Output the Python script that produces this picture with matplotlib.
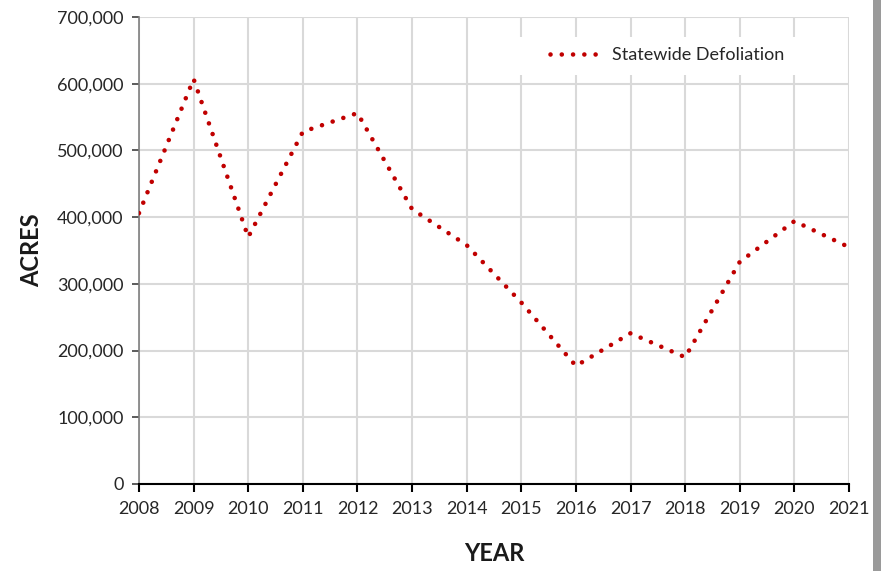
import matplotlib.pyplot as plt
from matplotlib.patches import Rectangle
from matplotlib.ticker import FuncFormatter

years = [2008, 2009, 2010, 2011, 2012, 2013, 2014, 2015, 2016, 2017, 2018, 2019, 2020, 2021]
acres = [406000, 607000, 370000, 528000, 556000, 412000, 358000, 272000, 177000, 226000, 190000, 333000, 394000, 355000]

plt.rcParams['font.family'] = ['Lato', 'DejaVu Sans']

fig = plt.figure(figsize=(8.81, 5.71), dpi=100)
ax = fig.add_axes([139/881, 1 - 484/571, 710/881, 467/571])

ax.plot(years, acres, color='#c00000', linewidth=3.3,
        linestyle=(0, (0.01, 2.45)), dash_capstyle='round',
        label='Statewide Defoliation', zorder=3)

ax.set_xlim(2008, 2021)
ax.set_ylim(0, 700000)
ax.set_xticks(years)
ax.set_yticks(range(0, 700001, 100000))
ax.yaxis.set_major_formatter(FuncFormatter(lambda v, p: f'{int(v):,}'))

ax.grid(True, color='#d9d9d9', linewidth=1.5)
ax.set_axisbelow(True)
for s in ['top', 'right']:
    ax.spines[s].set_visible(False)
ax.spines['left'].set_color('#7f7f7f')
ax.spines['left'].set_linewidth(1.2)
ax.spines['bottom'].set_color('black')
ax.spines['bottom'].set_linewidth(1.5)
ax.tick_params(axis='x', direction='out', length=6, width=1.5, color='black',
               labelsize=13, labelcolor='#262626', pad=6)
ax.tick_params(axis='y', direction='out', length=5, width=1.2, color='#404040',
               labelsize=13, labelcolor='#262626', pad=6)

ax.set_xlabel('YEAR', fontsize=17, fontweight='bold', color='#1a1a1a', labelpad=18)
ax.set_ylabel('ACRES', fontsize=17, fontweight='bold', color='#1a1a1a', labelpad=10)

# white box behind the legend, hiding the grid
ax.add_patch(Rectangle((0.534, 0.876), 0.446, 0.081, transform=ax.transAxes,
                       facecolor='white', edgecolor='none', zorder=2))
leg = ax.legend(loc='center left', bbox_to_anchor=(0.579, 0.918), frameon=False,
                fontsize=13, handlelength=3.0, handletextpad=0.45,
                borderpad=0, borderaxespad=0)
for t in leg.get_texts():
    t.set_color('#262626')

# shadow strip along the right edge
fig.patches.append(Rectangle((873/881, 0), 8/881, 1, transform=fig.transFigure,
                             facecolor='#9a9a9a', edgecolor='none'))

fig.savefig('out.png', dpi=100)
